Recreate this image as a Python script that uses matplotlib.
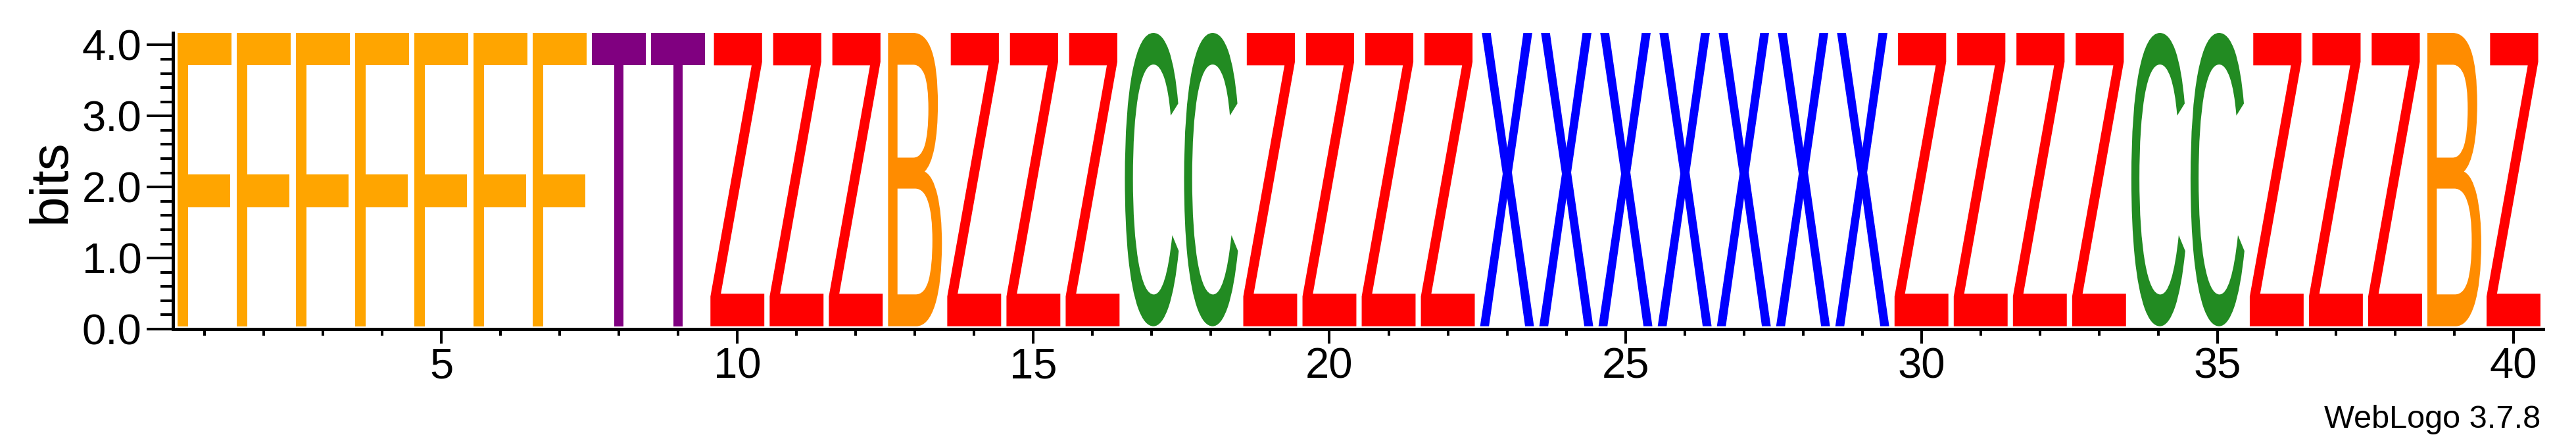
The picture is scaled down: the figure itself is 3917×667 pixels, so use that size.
import matplotlib
matplotlib.use("Agg")
import matplotlib.pyplot as plt
from matplotlib.textpath import TextPath
from matplotlib.patches import PathPatch
from matplotlib.font_manager import FontProperties
from matplotlib.transforms import Affine2D
from matplotlib.ticker import MultipleLocator, FixedLocator, FormatStrFormatter

# logo data: one letter per position, stack height in bits
positions = list(range(1, 41))
letters = list("FFFFFFFTTZZZBZZZCCZZZZXXXXXXXZZZZCCZZZBZ")
heights = [4.13, 4.13, 4.13, 4.13, 4.13, 4.13, 4.13, 4.13, 4.13, 4.13,
           4.13, 4.13, 4.13, 4.13, 4.13, 4.13, 4.13, 4.13, 4.13, 4.13,
           4.13, 4.13, 4.13, 4.13, 4.13, 4.13, 4.13, 4.13, 4.13, 4.13,
           4.13, 4.13, 4.13, 4.13, 4.13, 4.13, 4.13, 4.13, 4.13, 4.13]
xticks = [5, 10, 15, 20, 25, 30, 35, 40]
yticks = [0.0, 1.0, 2.0, 3.0, 4.0]

colors = {
    "F": "#ffa500",
    "T": "#800080",
    "Z": "#ff0000",
    "B": "#ff8c00",
    "C": "#228b22",
    "X": "#0000ff",
}

W, H = 3917, 667
plt.rcParams["font.family"] = ["Liberation Sans", "DejaVu Sans"]

fig = plt.figure(figsize=(W / 100, H / 100), dpi=100)
ax = fig.add_axes([266 / W, 167 / H, 3601 / W, 450 / H])
ax.set_xlim(0.5, 40.5)
ax.set_ylim(0, 4.17)

fp = FontProperties(family="Liberation Sans")
lw = 0.91      # letter width, in positions
base = 0.04    # small gap between axis and stack
for x, ch, h in zip(positions, letters, heights):
    tp = TextPath((0, 0), ch, size=1, prop=fp)
    bb = tp.get_extents()
    tr = (Affine2D().translate(-bb.x0, -bb.y0)
          .scale(lw / bb.width, h / bb.height)
          .translate(x - lw / 2, base))
    ax.add_patch(PathPatch(tr.transform_path(tp), fc=colors[ch], ec="none", lw=0))

for s in ["top", "right"]:
    ax.spines[s].set_visible(False)
ax.spines["left"].set_linewidth(3.6)
ax.spines["bottom"].set_linewidth(3.6)
ax.spines["left"].set_position(("outward", 2.5))

ax.xaxis.set_major_locator(FixedLocator(xticks))
ax.xaxis.set_minor_locator(MultipleLocator(1))
ax.yaxis.set_major_locator(FixedLocator(yticks))
ax.yaxis.set_minor_locator(MultipleLocator(0.2))
ax.yaxis.set_major_formatter(FormatStrFormatter("%.1f"))

ax.tick_params(axis="y", which="major", length=28.8, width=2.9, labelsize=47, pad=5)
ax.tick_params(axis="y", which="minor", length=13.7, width=2.9)
ax.tick_params(axis="x", which="major", length=15.8, width=2.9, labelsize=47, pad=4)
ax.tick_params(axis="x", which="minor", length=7.2, width=2.9)

ax.set_ylabel("bits", fontsize=59)
ax.yaxis.set_label_coords(-0.0417, 0.5)

fig.text(3863 / W, (H - 650) / H, "WebLogo 3.7.8", fontsize=35, ha="right", va="baseline")

fig.savefig("out.png", dpi=100)
